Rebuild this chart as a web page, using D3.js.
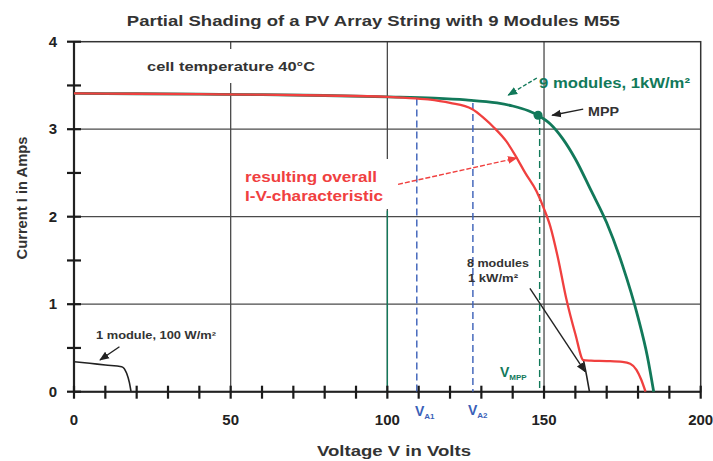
<!DOCTYPE html>
<html><head><meta charset="utf-8">
<script src="https://cdn.jsdelivr.net/npm/d3@7"></script>
<style>body{margin:0;background:#fff}svg{display:block}text{font-family:"Liberation Sans",Arial,sans-serif;font-weight:bold}</style>
</head><body><svg id="c" width="713" height="461"></svg>
<script>
// ---- data ----
const xTicks = [0, 50, 100, 150, 200];
const yTicks = [0, 1, 2, 3, 4];
const xMinor = [10,20,30,40,60,70,80,90,110,120,130,140,160,170,180,190];
const yMinor = [0.5, 1.5, 2.5, 3.5];
const gridX = [50, 100, 150];
const gridY = [1, 2, 3];
// 9 modules at 1 kW/m2 (V, I)
const nineV = [0,20,40,60,80,100,115,125,135,140,145,148,152,156,160,165,170,175,180,183,185];
const nineI = [3.41,3.405,3.40,3.395,3.385,3.37,3.355,3.335,3.30,3.265,3.21,3.16,3.06,2.89,2.66,2.30,1.93,1.45,0.85,0.40,0];
// resulting overall I-V characteristic
const resV = [0,20,40,60,80,100,105,113,120,127,131,134,138,141,144,147.6,150,152,154.5,157,160,162.6,165,170,175,177.5,179.5,181,182.4];
const resI = [3.41,3.405,3.40,3.395,3.385,3.37,3.36,3.34,3.30,3.23,3.12,3.02,2.86,2.69,2.50,2.29,2.09,1.89,1.52,1.08,0.66,0.36,0.355,0.35,0.34,0.32,0.25,0.14,0];
// 8 modules 1 kW/m2 (visible tail)
const eightV = [162.6, 163.6, 164.5];
const eightI = [0.36, 0.18, 0];
// 1 module, 100 W/m2
const oneV = [0, 5, 10, 15.2, 16.8, 17.7, 18.2];
const oneI = [0.343, 0.325, 0.305, 0.286, 0.21, 0.1, 0];
const mpp = [148.1, 3.16];
const vA1 = 109.4, vA2 = 127.3, vMPP = 148.6;

// ---- layout ----
const svg = d3.select("#c");
const x = d3.scaleLinear().domain([0, 200]).range([74, 700.7]);
const y = d3.scaleLinear().domain([0, 4]).range([391.7, 41.7]);
const grey = "#4a4a4a", green = "#12795a", red = "#f0403f", blue = "#3a5fb8";

gridX.forEach(d => svg.append("line")
  .attr("x1", x(d)).attr("x2", x(d)).attr("y1", y(4)).attr("y2", y(0))
  .attr("stroke", grey).attr("stroke-width", 1.3));
gridY.forEach(d => svg.append("line")
  .attr("x1", x(0)).attr("x2", x(200)).attr("y1", y(d)).attr("y2", y(d))
  .attr("stroke", grey).attr("stroke-width", 1.2));
// teal lower segment on 100 V line
svg.append("line").attr("x1", x(100)).attr("x2", x(100)).attr("y1", y(2.07)).attr("y2", y(0))
  .attr("stroke", green).attr("stroke-width", 1.4);

// white boxes behind labels
svg.append("rect").attr("x", 140).attr("y", 49).attr("width", 182).attr("height", 34).attr("fill", "#fff");
svg.append("rect").attr("x", 240).attr("y", 159).attr("width", 148).attr("height", 50).attr("fill", "#fff");

// frame
svg.append("rect").attr("x", x(0)).attr("y", y(4)).attr("width", x(200) - x(0)).attr("height", y(0) - y(4))
  .attr("fill", "none").attr("stroke", "#333").attr("stroke-width", 1.5);
svg.append("line").attr("x1", x(0)).attr("x2", x(0)).attr("y1", y(4)).attr("y2", y(0)).attr("stroke", "#222").attr("stroke-width", 2.2);
svg.append("line").attr("x1", x(0)).attr("x2", x(200)).attr("y1", y(0)).attr("y2", y(0)).attr("stroke", "#222").attr("stroke-width", 2);

xTicks.forEach(d => svg.append("text")
  .attr("x", x(d)).attr("y", 425).attr("text-anchor", "middle")
  .attr("font-size", 15).attr("fill", "#222").text(d));
yTicks.forEach(d => svg.append("text")
  .attr("x", 57).attr("y", y(d) + 5).attr("text-anchor", "end")
  .attr("font-size", 15).attr("fill", "#222").text(d));

// dashed verticals
const dash = (v, top, col) => svg.append("line").attr("x1", x(v)).attr("x2", x(v))
  .attr("y1", y(top)).attr("y2", y(0)).attr("stroke", col).attr("stroke-width", 1.4).attr("stroke-dasharray", "7,4");
dash(vA1, 3.35, blue);
dash(vA2, 3.30, blue);
dash(vMPP, 3.14, green);

// curves
const line = d3.line().x(d => x(d[0])).y(d => y(d[1])).curve(d3.curveMonotoneX);
const zip = (a, b) => a.map((v, i) => [v, b[i]]);
svg.append("path").attr("d", line(zip(eightV, eightI))).attr("fill", "none").attr("stroke", "#222").attr("stroke-width", 1.6);
svg.append("path").attr("d", line(zip(oneV, oneI))).attr("fill", "none").attr("stroke", "#222").attr("stroke-width", 1.6);
svg.append("path").attr("d", line(zip(nineV, nineI))).attr("fill", "none").attr("stroke", green).attr("stroke-width", 2.8);
svg.append("path").attr("d", line(zip(resV, resI))).attr("fill", "none").attr("stroke", red).attr("stroke-width", 2.3);
svg.append("circle").attr("cx", x(mpp[0])).attr("cy", y(mpp[1])).attr("r", 4.5).attr("fill", green);

// ticks (drawn on top)
xTicks.concat(xMinor).forEach(d => svg.append("line")
  .attr("x1", x(d)).attr("x2", x(d)).attr("y1", y(0) - 6).attr("y2", y(0) + 7)
  .attr("stroke", "#1a1a1a").attr("stroke-width", 2.2));
yTicks.concat(yMinor).forEach(d => svg.append("line")
  .attr("x1", x(0) - 7).attr("x2", x(0) + 7).attr("y1", y(d)).attr("y2", y(d))
  .attr("stroke", "#1a1a1a").attr("stroke-width", 2.2));

// arrows
const defs = svg.append("defs");
function marker(id, col) {
  defs.append("marker").attr("id", id).attr("viewBox", "0 0 10 10").attr("refX", 9).attr("refY", 5)
    .attr("markerWidth", 7).attr("markerHeight", 7).attr("orient", "auto-start-reverse")
    .append("path").attr("d", "M0,1 L10,5 L0,9 Z").attr("fill", col);
}
marker("ak", "#222"); marker("ag", green); marker("ar", red);
function arrow(a, b, col, id, dsh) {
  const l = svg.append("line").attr("x1", x(a[0])).attr("y1", y(a[1])).attr("x2", x(b[0])).attr("y2", y(b[1]))
    .attr("stroke", col).attr("stroke-width", 1.4).attr("marker-end", `url(#${id})`);
  if (dsh) l.attr("stroke-dasharray", dsh);
}
arrow([147.7, 3.585], [138.6, 3.39], green, "ag", "4,2");
arrow([162.5, 3.23], [152.6, 3.16], "#222", "ak");
arrow([103.4, 2.37], [141.3, 2.67], red, "ar", "5,2");
arrow([145.5, 1.18], [163.1, 0.23], "#222", "ak");
arrow([14.5, 0.514], [8.3, 0.362], "#222", "ak");

// text annotations
const txt = (t, px, py, size, col, anchor) => svg.append("text").attr("x", px).attr("y", py)
  .attr("font-size", size).attr("fill", col).attr("text-anchor", anchor || "start").text(t);

txt("Partial Shading of a PV Array String with 9 Modules M55", 373.3, 26, 15.5, "#333", "middle")
  .attr("textLength", 493).attr("lengthAdjust", "spacingAndGlyphs");
txt("cell temperature 40°C", 147, 71, 13, "#333").attr("textLength", 168).attr("lengthAdjust", "spacingAndGlyphs");
txt("9 modules, 1kW/m²", 539, 88, 14, green).attr("textLength", 151).attr("lengthAdjust", "spacingAndGlyphs");
txt("MPP", 588, 116, 12, "#333").attr("textLength", 31).attr("lengthAdjust", "spacingAndGlyphs");
txt("resulting overall", 245, 182, 15, red).attr("textLength", 132).attr("lengthAdjust", "spacingAndGlyphs");
txt("I-V-characteristic", 245, 201, 15, red).attr("textLength", 138).attr("lengthAdjust", "spacingAndGlyphs");
txt("8 modules", 467, 267, 11, "#333").attr("textLength", 62).attr("lengthAdjust", "spacingAndGlyphs");
txt("1 kW/m²", 468, 282, 11, "#333").attr("textLength", 50).attr("lengthAdjust", "spacingAndGlyphs");
txt("1 module, 100 W/m²", 96, 339, 10, "#333").attr("textLength", 120).attr("lengthAdjust", "spacingAndGlyphs");

function vlabel(sub, px, py, col) {
  const t = svg.append("text").attr("x", px).attr("y", py).attr("fill", col).attr("font-size", 14);
  t.append("tspan").text("V");
  t.append("tspan").attr("font-size", 8).attr("dy", 3).text(sub);
}
vlabel("MPP", 500, 377, green);
vlabel("A1", 415, 416, blue);
vlabel("A2", 468, 415, blue);

// axis titles
txt("Voltage V in Volts", 394, 456, 15, "#333", "middle").attr("textLength", 154).attr("lengthAdjust", "spacingAndGlyphs");
svg.append("text").attr("transform", "translate(27,198) rotate(-90)").attr("text-anchor", "middle")
  .attr("font-size", 14).attr("fill", "#333").attr("textLength", 123).attr("lengthAdjust", "spacingAndGlyphs")
  .text("Current  I in Amps");
</script></body></html>
